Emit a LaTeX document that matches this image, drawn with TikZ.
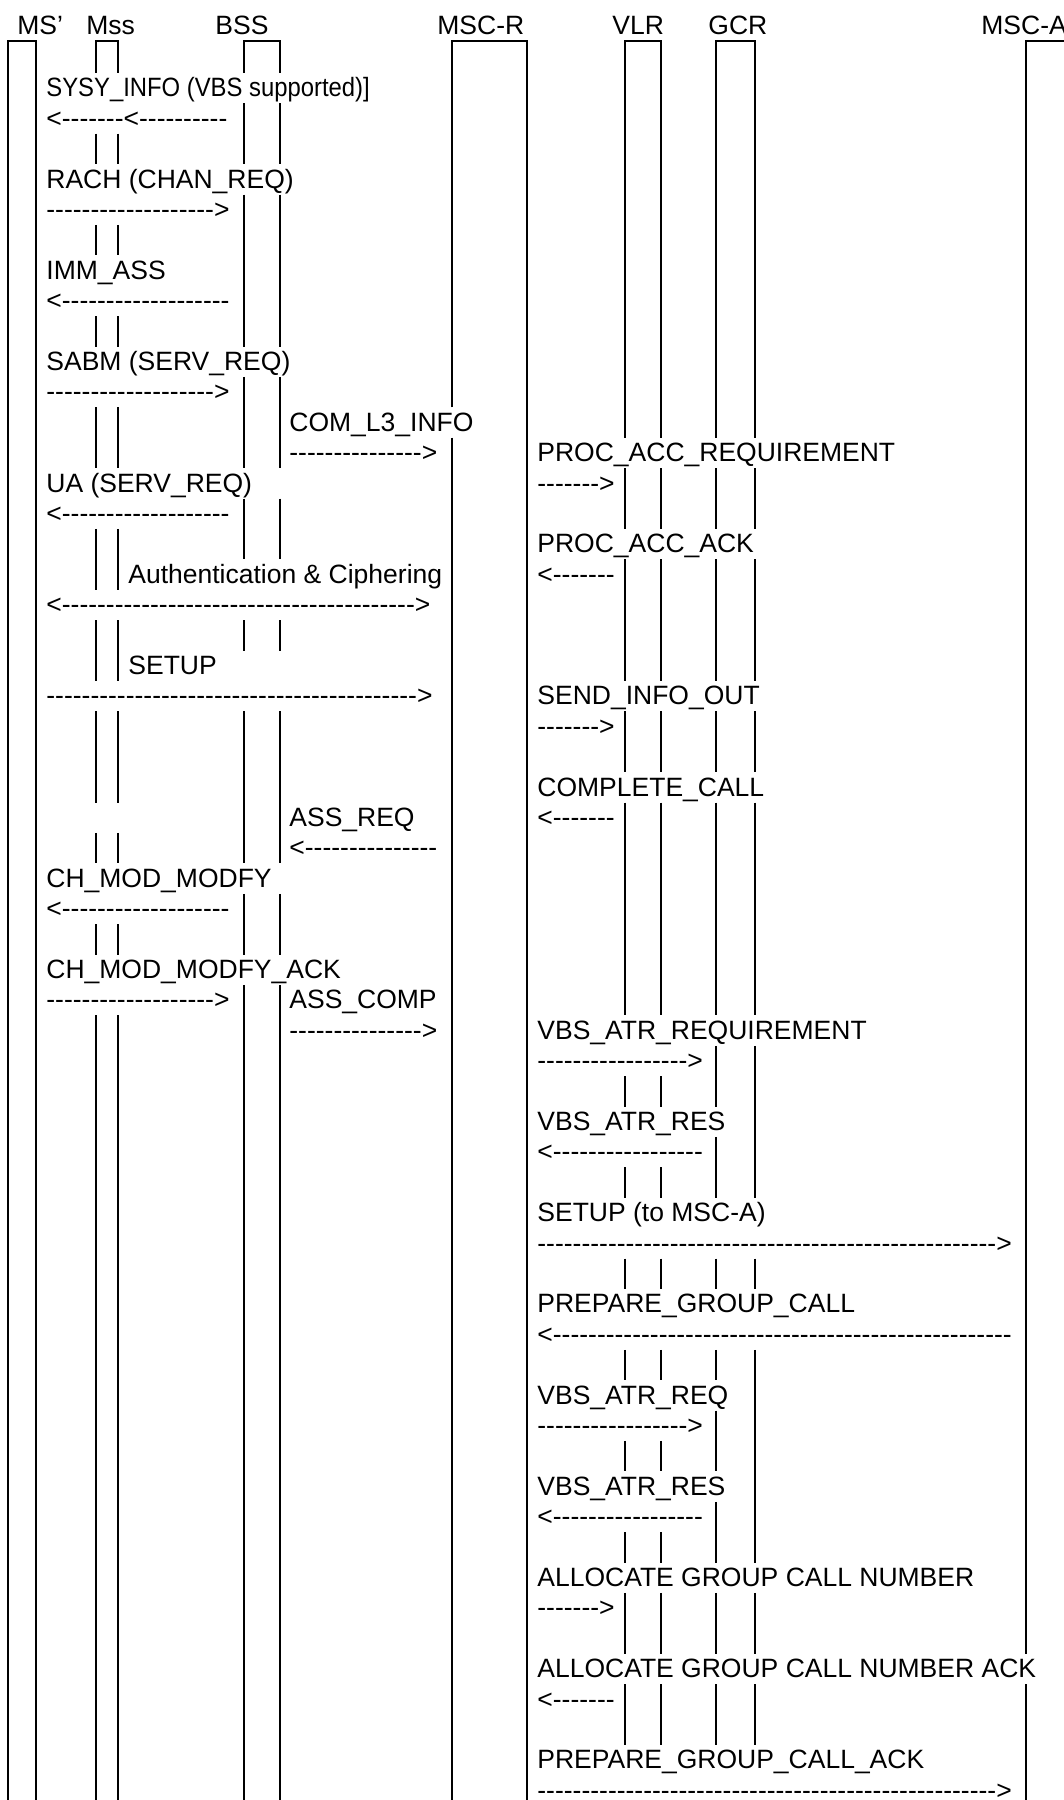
\documentclass[tikz,border=0pt]{standalone}
\usepackage{fontspec}
\setmainfont{Liberation Sans}
\usepackage{graphicx}
\newcommand\dashes[1]{\foreach\k in {1,...,#1}{-\kern0pt}}

\begin{document}
\begin{tikzpicture}[
    x=0.5pt, y=-0.5pt,
    declare function={rtop(\n)=12.14+30.4*\n; rbot(\n)=42.57+30.4*\n; base(\n)=36.14+30.4*\n;},
    every node/.style={font=\fontsize{13.25}{15}\selectfont, inner sep=0pt},
    msg/.style={anchor=base west, text depth=0pt},
    life/.style={line width=1.1pt}
]
    \useasboundingbox (0,0) rectangle (1064,1800);
    \clip (0,0) rectangle (1064,1800);

    \node[msg] (MSp) at (17,34) {MS’};
    \node[msg] (Mss) at (86,34) {Mss};
    \node[msg] (BSS) at (215,34) {BSS};
    \node[msg] (MSCR) at (437,34) {MSC-R};
    \node[msg] (VLR) at (612,34) {VLR};
    \node[msg] (GCR) at (708,34) {GCR};
    \node[msg] (MSCA) at (981,34) {MSC-A};

    \draw[life] (8,1800) |- (36,41) -- (36,1800);
    \draw[life] (452,{rbot(12)}) |- (527,41) -- (527,1800);
    \draw[life] (1026,{rbot(53)}) |- (1064,41);
    \foreach \xa/\xb/\rr in {96/118/1, 244/280/1, 625/661/13, 716/755/13}
        \draw[life] (\xa,{rbot(\rr)}) |- (\xb,41) -- (\xb,{rbot(\rr)});
    \foreach \xa/\xb/\runs in {96/118/{4/4,7/7,10/10,13/14,17/18,20/21,23/25,27/27,30/30,33/58},
        244/280/{3/4,6/10,12/14,16/17,20/20,23/27,29/30,32/58},
        625/661/{15/16,18/21,23/24,26/32,35/35,38/38,41/41,44/44,47/47,50/50,52/53,55/56}}
        \foreach \ra/\rb in \runs {
            \draw[life] (\xa,{rtop(\ra)}) -- (\xa,{rbot(\rb)});
            \draw[life] (\xb,{rtop(\ra)}) -- (\xb,{rbot(\rb)});
        };
    \foreach \xx/\runs in {716/{15/16,18/21,23/24,26/32,34/35,37/38,41/41,44/44,46/47,49/50,52/53,55/56},
        755/{15/16,18/21,23/24,26/32,34/38,41/41,44/50,52/53,55/56},
        452/{14/58}, 1026/{55/58}}
        \foreach \ra/\rb in \runs
            \draw[life] (\xx,{rtop(\ra)}) -- (\xx,{rbot(\rb)});

    \node[msg] (sysinfo) at (46,{base(2)}) {\scalebox{0.9}[1]{SYSY\_INFO (VBS supported)]}};
    \node[msg] (sysinfoar) at (46,{base(3)}) {<\dashes{7}<\dashes{10}};
    \node[msg] (rach) at (46,{base(5)}) {RACH (CHAN\_REQ)};
    \node[msg] (rachar) at (46,{base(6)}) {\dashes{19}>};
    \node[msg] (immass) at (46,{base(8)}) {IMM\_ASS};
    \node[msg] (immassar) at (46,{base(9)}) {<\dashes{19}};
    \node[msg] (sabm) at (46,{base(11)}) {SABM (SERV\_REQ)};
    \node[msg] (sabmar) at (46,{base(12)}) {\dashes{19}>};
    \node[msg] (coml3) at (289,{base(13)}) {COM\_L3\_INFO};
    \node[msg] (coml3ar) at (289,{base(14)}) {\dashes{15}>};
    \node[msg] (ua) at (46,{base(15)}) {UA (SERV\_REQ)};
    \node[msg] (uaar) at (46,{base(16)}) {<\dashes{19}};
    \node[msg] (auth) at (128,{base(18)}) {Authentication \& Ciphering};
    \node[msg] (authar) at (46,{base(19)}) {<\dashes{40}>};
    \node[msg] (setup) at (128,{base(21)}) {SETUP};
    \node[msg] (setupar) at (46,{base(22)}) {\dashes{42}>};
    \node[msg] (assreq) at (289,{base(26)}) {ASS\_REQ};
    \node[msg] (assreqar) at (289,{base(27)}) {<\dashes{15}};
    \node[msg] (chmod) at (46,{base(28)}) {CH\_MOD\_MODFY};
    \node[msg] (chmodar) at (46,{base(29)}) {<\dashes{19}};
    \node[msg] (chmodack) at (46,{base(31)}) {CH\_MOD\_MODFY\_ACK};
    \node[msg] (chmodackar) at (46,{base(32)}) {\dashes{19}>};
    \node[msg] (asscomp) at (289,{base(32)}) {ASS\_COMP};
    \node[msg] (asscompar) at (289,{base(33)}) {\dashes{15}>};

    \node[msg] (procreq) at (537,{base(14)}) {PROC\_ACC\_REQUIREMENT};
    \node[msg] (procreqar) at (537,{base(15)}) {\dashes{7}>};
    \node[msg] (procack) at (537,{base(17)}) {PROC\_ACC\_ACK};
    \node[msg] (procackar) at (537,{base(18)}) {<\dashes{7}};
    \node[msg] (sendinfo) at (537,{base(22)}) {SEND\_INFO\_OUT};
    \node[msg] (sendinfoar) at (537,{base(23)}) {\dashes{7}>};
    \node[msg] (complete) at (537,{base(25)}) {COMPLETE\_CALL};
    \node[msg] (completear) at (537,{base(26)}) {<\dashes{7}};
    \node[msg] (atrreq) at (537,{base(33)}) {VBS\_ATR\_REQUIREMENT};
    \node[msg] (atrreqar) at (537,{base(34)}) {\dashes{17}>};
    \node[msg] (atrres) at (537,{base(36)}) {VBS\_ATR\_RES};
    \node[msg] (atrresar) at (537,{base(37)}) {<\dashes{17}};
    \node[msg] (setupa) at (537,{base(39)}) {SETUP (to MSC-A)};
    \node[msg] (setupaar) at (537,{base(40)}) {\dashes{52}>};
    \node[msg] (prep) at (537,{base(42)}) {PREPARE\_GROUP\_CALL};
    \node[msg] (prepar) at (537,{base(43)}) {<\dashes{52}};
    \node[msg] (atrreq2) at (537,{base(45)}) {VBS\_ATR\_REQ};
    \node[msg] (atrreq2ar) at (537,{base(46)}) {\dashes{17}>};
    \node[msg] (atrres2) at (537,{base(48)}) {VBS\_ATR\_RES};
    \node[msg] (atrres2ar) at (537,{base(49)}) {<\dashes{17}};
    \node[msg] (alloc) at (537,{base(51)}) {ALLOCATE GROUP CALL NUMBER};
    \node[msg] (allocar) at (537,{base(52)}) {\dashes{7}>};
    \node[msg] (allocack) at (537,{base(54)}) {ALLOCATE GROUP CALL NUMBER ACK};
    \node[msg] (allocackar) at (537,{base(55)}) {<\dashes{7}};
    \node[msg] (prepack) at (537,{base(57)}) {PREPARE\_GROUP\_CALL\_ACK};
    \node[msg] (prepackar) at (537,{base(58)}) {\dashes{52}>};
\end{tikzpicture}
\end{document}
